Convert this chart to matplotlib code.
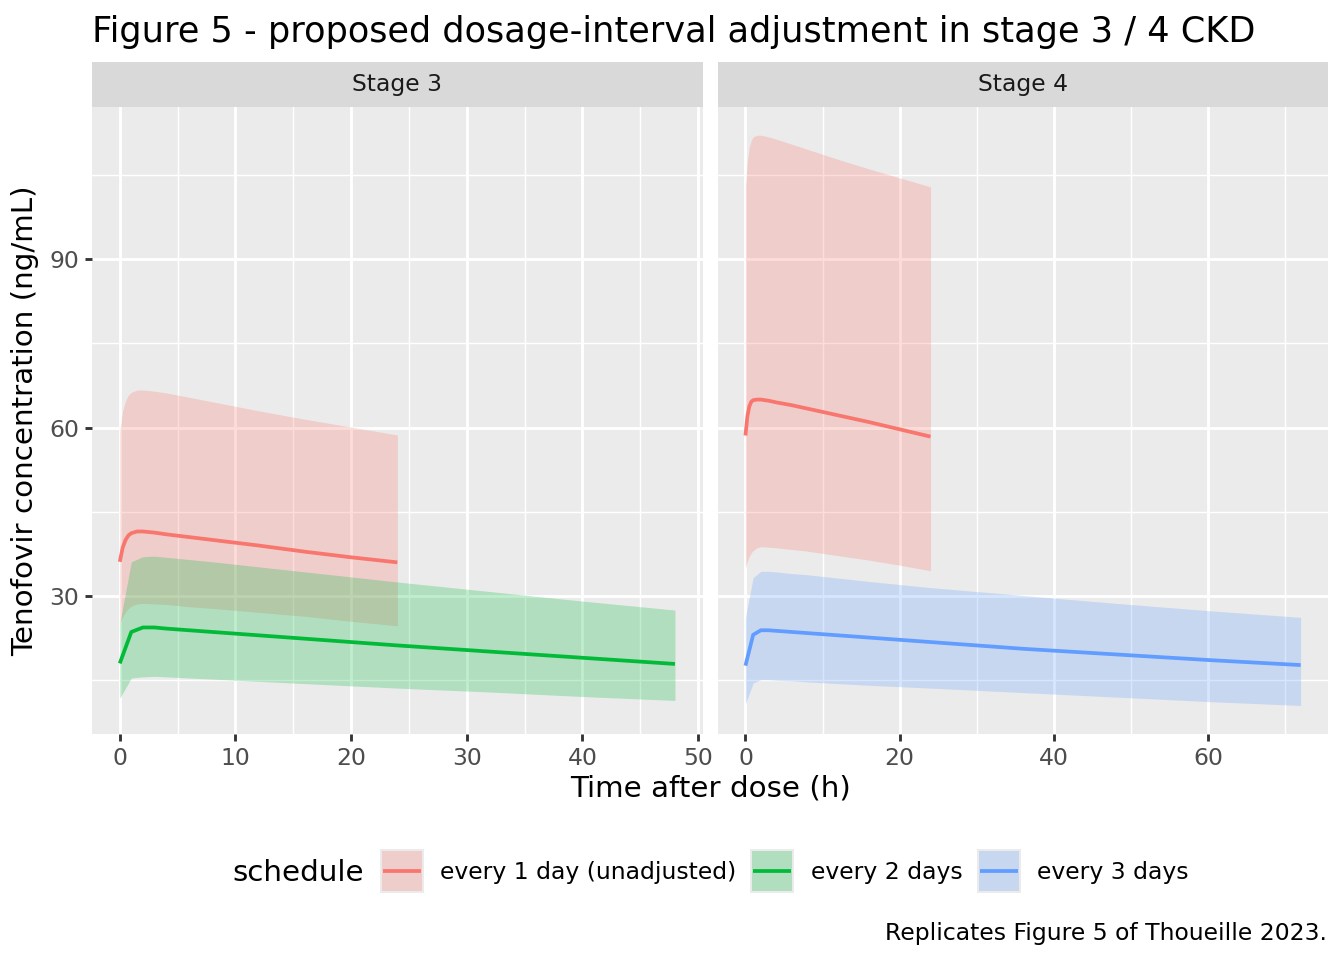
import matplotlib
matplotlib.use("Agg")
import matplotlib.pyplot as plt
from matplotlib.patches import Rectangle
from matplotlib.lines import Line2D

# --- data (ng/mL) ---
t_daily = [0, 0.25, 0.5, 0.75, 1, 1.5, 2, 3, 4, 6, 8, 12, 16, 20, 24]
t_2days = [0, 1, 2, 3, 4, 6, 8, 12, 16, 24, 32, 40, 48]
t_3days = [0, 1, 2, 3, 4, 6, 8, 12, 16, 24, 36, 48, 60, 72]

# Stage 3, every 1 day (unadjusted)
s3_daily_med = [36.1, 38.6, 40.0, 40.8, 41.2, 41.5, 41.5, 41.3, 41.0, 40.5, 40.0, 39.0, 37.9, 36.9, 36.0]
s3_daily_lo = [25.2, 26.3, 27.2, 27.8, 28.2, 28.6, 28.7, 28.6, 28.5, 28.1, 27.8, 27.1, 26.4, 25.5, 24.7]
s3_daily_hi = [59.3, 63.0, 64.8, 65.8, 66.3, 66.7, 66.7, 66.5, 66.2, 65.4, 64.6, 63.0, 61.5, 60.1, 58.7]

# Stage 3, every 2 days
s3_2d_med = [18.0, 23.6, 24.4, 24.4, 24.2, 23.9, 23.6, 23.0, 22.4, 21.2, 20.1, 19.0, 17.9]
s3_2d_lo = [11.8, 15.4, 15.6, 15.7, 15.6, 15.4, 15.2, 14.8, 14.4, 13.6, 12.9, 12.1, 11.4]
s3_2d_hi = [25.1, 36.1, 37.0, 37.1, 36.9, 36.5, 36.1, 35.2, 34.3, 32.5, 30.8, 29.1, 27.5]

# Stage 4, every 1 day (unadjusted)
s4_daily_med = [58.6, 62.0, 63.8, 64.6, 64.9, 65.0, 65.0, 64.8, 64.5, 64.0, 63.4, 62.2, 61.0, 59.7, 58.4]
s4_daily_lo = [35.0, 36.2, 37.1, 37.7, 38.1, 38.6, 38.8, 38.7, 38.6, 38.3, 38.0, 37.2, 36.4, 35.5, 34.5]
s4_daily_hi = [103.1, 107.5, 110.0, 111.2, 111.8, 112.1, 112.1, 111.8, 111.4, 110.5, 109.6, 107.8, 106.1, 104.5, 102.9]

# Stage 4, every 3 days
s4_3d_med = [17.6, 23.1, 23.9, 23.9, 23.8, 23.6, 23.4, 23.0, 22.6, 21.8, 20.6, 19.6, 18.6, 17.7]
s4_3d_lo = [10.8, 14.5, 15.1, 15.1, 15.0, 14.9, 14.7, 14.4, 14.1, 13.6, 12.8, 12.0, 11.2, 10.5]
s4_3d_hi = [26.2, 33.3, 34.4, 34.4, 34.3, 34.0, 33.8, 33.2, 32.6, 31.5, 30.1, 28.7, 27.4, 26.2]

schedules = ["every 1 day (unadjusted)", "every 2 days", "every 3 days"]
colors = ["#F8766D", "#00BA38", "#619CFF"]
ALPHA = 0.25
LW = 1.4

W, H = 1344, 960
fig = plt.figure(figsize=(7, 5), dpi=192)
fig.patch.set_facecolor("white")


def fx(px):
    return px / W


def fy(py):
    return 1 - py / H


panel_w = fx(702.7) - fx(92)
panel_b = fy(734)
panel_h = fy(106.7) - fy(734)

ax3 = fig.add_axes([fx(92), panel_b, panel_w, panel_h])
ax4 = fig.add_axes([fx(717.7), panel_b, panel_w, panel_h])

panels = [
    (ax3, "Stage 3", [(t_daily, s3_daily_med, s3_daily_lo, s3_daily_hi, 0),
                      (t_2days, s3_2d_med, s3_2d_lo, s3_2d_hi, 1)],
     (-2.4, 50.4), [0, 10, 20, 30, 40, 50], [5, 15, 25, 35, 45]),
    (ax4, "Stage 4", [(t_daily, s4_daily_med, s4_daily_lo, s4_daily_hi, 0),
                      (t_3days, s4_3d_med, s4_3d_lo, s4_3d_hi, 2)],
     (-3.6, 75.6), [0, 20, 40, 60], [10, 30, 50, 70]),
]

for ax, name, series, xlim, xmaj, xmin in panels:
    ax.set_facecolor("#EBEBEB")
    for s in ax.spines.values():
        s.set_visible(False)
    ax.set_axisbelow(True)
    # ribbons first, then lines (ggplot layer order)
    for t, med, lo, hi, ci in series:
        ax.fill_between(t, lo, hi, color=colors[ci], alpha=ALPHA, lw=0)
    for t, med, lo, hi, ci in series:
        ax.plot(t, med, color=colors[ci], lw=LW, solid_capstyle="butt")
    ax.set_xlim(*xlim)
    ax.set_ylim(5.42, 117.18)
    ax.set_xticks(xmaj)
    ax.set_xticks(xmin, minor=True)
    ax.set_yticks([30, 60, 90])
    ax.set_yticks([15, 45, 75, 105], minor=True)
    ax.grid(which="major", color="white", lw=1.07)
    ax.grid(which="minor", color="white", lw=0.53)
    ax.tick_params(which="major", length=2.75, width=1.07, color="#333333",
                   labelsize=8.8, labelcolor="#4D4D4D", pad=2.2)
    ax.tick_params(which="minor", length=0)

    # facet strip
    pos = ax.get_position()
    strip = fig.add_axes([pos.x0, fy(106.7), pos.width, fy(62.3) - fy(106.7)])
    strip.set_facecolor("#D9D9D9")
    strip.set_xticks([])
    strip.set_yticks([])
    for s in strip.spines.values():
        s.set_visible(False)
    strip.text(0.5, 0.5, name, ha="center", va="center", fontsize=8.8, color="#1A1A1A",
               transform=strip.transAxes)

ax4.tick_params(axis="y", which="both", left=False, labelleft=False)

fig.text(fx(92), fy(41.7), "Figure 5 - proposed dosage-interval adjustment in stage 3 / 4 CKD",
         fontsize=13.2, ha="left", va="baseline", color="black")
fig.text(fx(710.5), fy(788), "Time after dose (h)", fontsize=11, ha="center", va="center")
fig.text(fx(25), fy(420.3), "Tenofovir concentration (ng/mL)", fontsize=11, ha="center",
         va="center", rotation=90)

# legend drawn at the bottom, ggplot style
fig.text(fx(232), fy(873), "schedule", fontsize=11, ha="left", va="center")
key_left = [380, 750, 977]
text_left = [440, 811, 1037]
for i, lab in enumerate(schedules):
    x0 = key_left[i]
    fig.patches.append(Rectangle((fx(x0), fy(893)), fx(44), 44 / H, transform=fig.transFigure,
                                 facecolor="#EBEBEB", edgecolor="none"))
    fig.patches.append(Rectangle((fx(x0 + 2), fy(891)), fx(40), 40 / H, transform=fig.transFigure,
                                 facecolor=colors[i], alpha=ALPHA, edgecolor="none"))
    fig.lines.append(Line2D([fx(x0 + 3), fx(x0 + 41)], [fy(871), fy(871)], transform=fig.transFigure,
                            color=colors[i], lw=LW, solid_capstyle="butt"))
    fig.text(fx(text_left[i]), fy(873), lab, fontsize=8.8, ha="left", va="center")

fig.text(fx(1327), fy(940), "Replicates Figure 5 of Thoueille 2023.", fontsize=8.8,
         ha="right", va="baseline")

fig.savefig("out.png", dpi=192)
